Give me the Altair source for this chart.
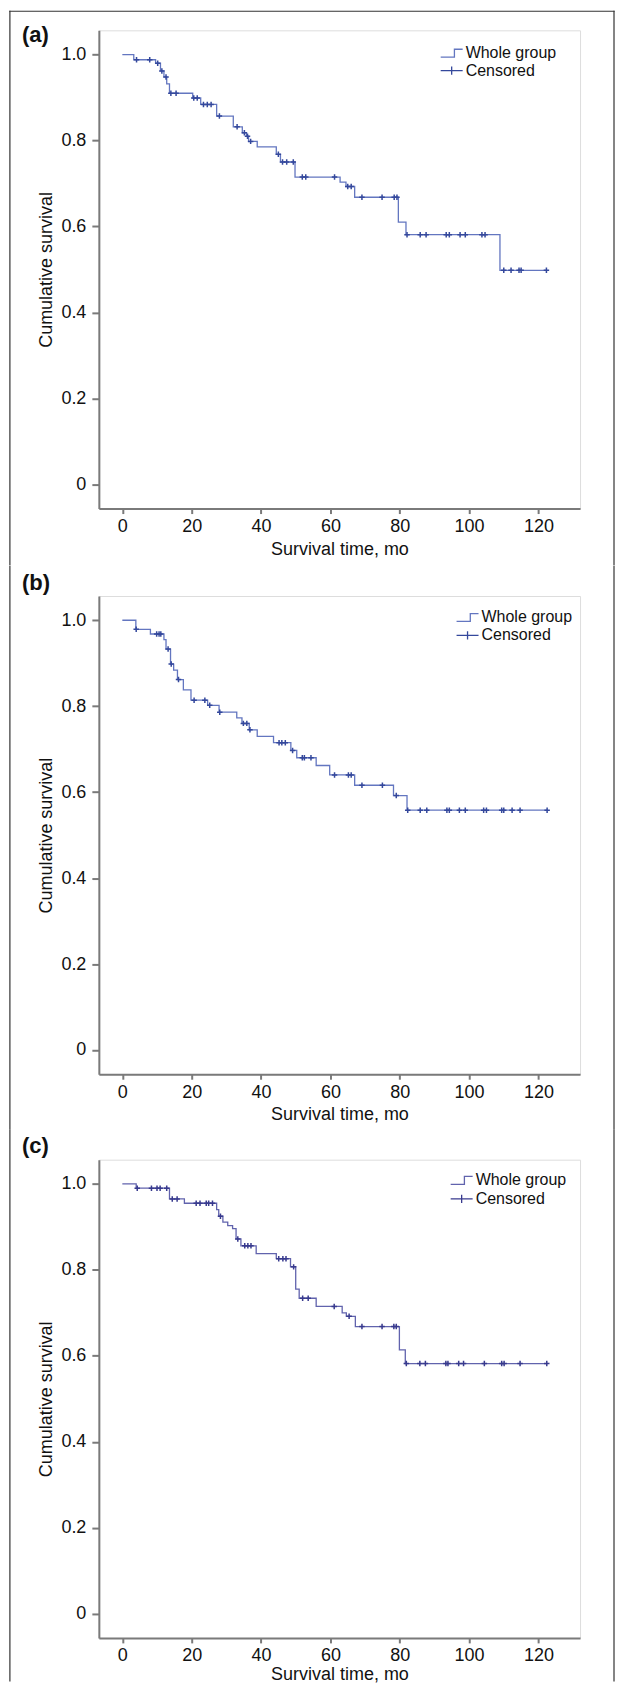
import altair as alt
import pandas as pd

# ---------------- data ----------------
panel_labels = ["(a)", "(b)", "(c)"]
legend_labels = ["Whole group", "Censored"]
x_ticks = [0, 20, 40, 60, 80, 100, 120]
y_ticks = [0, 0.2, 0.4, 0.6, 0.8, 1.0]
x_title = "Survival time, mo"
y_title = "Cumulative survival"

# (a) Kaplan-Meier steps (time, survival after the step)
a_step_t = [0, 3.3, 9.6, 11.0, 12.0, 12.8, 13.6, 20.3, 22.6, 27.2, 32.0, 34.6, 35.8, 36.4, 38.9,
            44.4, 45.6, 49.8, 62.8, 64.5, 67.0, 79.6, 81.8, 108.9, 122.3]
a_step_s = [1.0, 0.988, 0.980, 0.962, 0.948, 0.932, 0.910, 0.899, 0.884, 0.857, 0.832, 0.818, 0.810, 0.798, 0.785,
            0.768, 0.750, 0.715, 0.703, 0.693, 0.668, 0.610, 0.581, 0.498, 0.498]
a_cens_t = [4.1, 7.9, 10.2, 11.4, 12.6, 14.0, 15.5, 20.6, 21.6, 23.4, 24.5, 25.6, 28.0, 33.1, 35.2, 36.1, 37.0,
            45.0, 46.2, 47.4, 49.3, 51.9, 52.9, 61.2, 65.0, 66.0, 69.1, 74.9, 78.4, 79.2,
            82.1, 85.9, 87.6, 93.4, 94.3, 97.4, 98.9, 103.7, 104.6, 110.0, 112.1, 114.4, 115.0, 122.3]
a_cens_s = [0.988, 0.988, 0.980, 0.962, 0.948, 0.910, 0.910, 0.899, 0.899, 0.884, 0.884, 0.884, 0.857, 0.832,
            0.818, 0.810, 0.798, 0.768, 0.750, 0.750, 0.750, 0.715, 0.715, 0.715, 0.693, 0.693,
            0.668, 0.668, 0.668, 0.668, 0.581, 0.581, 0.581, 0.581, 0.581, 0.581, 0.581, 0.581, 0.581,
            0.498, 0.498, 0.498, 0.498, 0.498]

# (b)
b_step_t = [0, 3.9, 8.1, 12.0, 12.6, 13.9, 14.8, 15.9, 17.6, 19.8, 24.6, 27.9, 33.0, 34.5, 36.6, 38.9,
            43.6, 48.6, 50.3, 55.9, 59.8, 67.0, 78.2, 82.1, 122.5]
b_step_s = [1.0, 0.979, 0.968, 0.955, 0.933, 0.898, 0.884, 0.862, 0.838, 0.814, 0.802, 0.786, 0.773, 0.760,
            0.745, 0.730, 0.715, 0.697, 0.680, 0.662, 0.640, 0.616, 0.592, 0.558, 0.558]
b_cens_t = [4.0, 9.9, 10.6, 11.1, 13.2, 14.1, 16.2, 20.7, 23.8, 25.2, 28.1, 34.9, 35.9, 36.8, 45.2, 46.0, 47.0,
            49.1, 51.9, 52.5, 54.4, 61.2, 65.2, 66.0, 69.1, 75.0, 79.0, 82.3, 85.9, 87.8, 93.6, 94.3,
            97.2, 98.9, 104.2, 105.0, 109.4, 110.0, 112.4, 114.7, 122.5]
b_cens_s = [0.979, 0.968, 0.968, 0.968, 0.933, 0.898, 0.862, 0.814, 0.814, 0.802, 0.786, 0.760, 0.760, 0.745,
            0.715, 0.715, 0.715, 0.697, 0.680, 0.680, 0.680, 0.640, 0.640, 0.640, 0.616, 0.616, 0.592,
            0.558, 0.558, 0.558, 0.558, 0.558, 0.558, 0.558, 0.558, 0.558, 0.558, 0.558, 0.558, 0.558, 0.558]

# (c)
c_step_t = [0, 4.0, 13.6, 17.9, 27.2, 27.8, 29.0, 30.4, 31.8, 32.8, 34.2, 38.6, 44.4, 48.5, 50.0, 51.0,
            55.9, 63.4, 64.6, 67.2, 79.9, 81.6, 122.6]
c_step_s = [1.0, 0.990, 0.965, 0.955, 0.940, 0.925, 0.911, 0.903, 0.896, 0.872, 0.856, 0.838, 0.826, 0.807,
            0.755, 0.734, 0.715, 0.700, 0.692, 0.668, 0.614, 0.582, 0.582]
c_cens_t = [4.3, 8.4, 10.0, 10.9, 12.8, 14.4, 15.8, 21.3, 22.4, 24.2, 24.9, 26.0, 28.3, 33.3, 35.3, 36.2, 37.1,
            45.1, 46.3, 47.2, 49.4, 52.0, 53.6, 61.1, 65.4, 69.1, 74.9, 78.3, 79.0,
            81.9, 85.8, 87.4, 93.3, 93.9, 97.0, 98.4, 104.4, 109.4, 110.1, 114.7, 122.4]
c_cens_s = [0.990, 0.990, 0.990, 0.990, 0.990, 0.965, 0.965, 0.955, 0.955, 0.955, 0.955, 0.955, 0.925, 0.872,
            0.856, 0.856, 0.856, 0.826, 0.826, 0.826, 0.807, 0.734, 0.734, 0.715, 0.692,
            0.668, 0.668, 0.668, 0.668, 0.582, 0.582, 0.582, 0.582, 0.582, 0.582, 0.582, 0.582, 0.582,
            0.582, 0.582, 0.582]

# ---------------- styling ----------------
FONT = "Liberation Sans"
TEXT = "#111111"
W, H = 482, 479
X_DOMAIN = [-6.77, 132.0]
Y_DOMAIN = [-0.0564, 1.0564]
BORDER = "#333333"
SW = 1.2
XL, XR = -89.1, 516.0

STEP_SYM = "M-1,0.36H0.25V-0.36H1"
CENS_SYM = "M-1,0H1M0,-0.38V0.38"
CROSS = "M-1,0H1M0,-1V1"


def make_panel(step_t, step_s, cens_t, cens_s, label, line_color, cross_color,
               band_top, band_bottom, label_y, leg_x, leg_y1, leg_y2, xtitle_y, top_border):
    xs = alt.Scale(domain=X_DOMAIN, nice=False, zero=False)
    ys = alt.Scale(domain=Y_DOMAIN, nice=False, zero=False)
    x_axis = alt.Axis(values=x_ticks, grid=False, domain=True, domainColor="#7a7a7a", domainWidth=2,
                      tickSize=5, tickWidth=2, tickColor="#7a7a7a", labelPadding=4,
                      labelFont=FONT, labelFontSize=18, labelColor=TEXT,
                      titleFont=FONT, titleFontSize=18, titleFontWeight="normal", titleColor=TEXT,
                      titleX=W / 2, titleY=xtitle_y, titleBaseline="alphabetic", titleAlign="center")
    y_axis = alt.Axis(values=y_ticks, grid=False, domain=True, domainColor="#7a7a7a", domainWidth=2,
                      tickSize=7, tickWidth=2, tickColor="#7a7a7a", labelPadding=6,
                      labelExpr="datum.value == 0 ? '0' : format(datum.value, '.1f')",
                      labelFont=FONT, labelFontSize=18, labelColor=TEXT,
                      titleFont=FONT, titleFontSize=18, titleFontWeight="normal", titleColor=TEXT,
                      titleX=-47, titleY=H / 2, titleAngle=270, titleBaseline="alphabetic",
                      titleAlign="center")

    line_df = pd.DataFrame({"t": step_t, "s": step_s, "kind": legend_labels[0]})
    cens_df = pd.DataFrame({"t": cens_t, "s": cens_s, "kind": legend_labels[1]})

    def leg(sym, ly):
        return alt.Legend(title=None, orient="none", legendX=leg_x, legendY=ly, padding=0,
                          symbolType=sym, symbolSize=484, symbolStrokeWidth=1.3,
                          symbolFillColor="transparent", labelFont=FONT, labelFontSize=16,
                          labelColor=TEXT, labelOffset=2)

    line = alt.Chart(line_df).mark_line(interpolate="step-after", strokeWidth=1.3).encode(
        x=alt.X("t:Q", scale=xs, axis=x_axis, title=x_title),
        y=alt.Y("s:Q", scale=ys, axis=y_axis, title=y_title),
        stroke=alt.Stroke("kind:N", scale=alt.Scale(domain=[legend_labels[0]], range=[line_color]),
                          legend=leg(STEP_SYM, leg_y1)),
    )
    pts = alt.Chart(cens_df).mark_point(shape=CROSS, filled=False, size=30, strokeWidth=1.5,
                                        opacity=1).encode(
        x=alt.X("t:Q", scale=xs, axis=x_axis, title=x_title),
        y=alt.Y("s:Q", scale=ys, axis=y_axis, title=y_title),
        color=alt.Color("kind:N", scale=alt.Scale(domain=[legend_labels[1]], range=[cross_color]),
                        legend=leg(CENS_SYM, leg_y2)),
    )
    lab = alt.Chart(pd.DataFrame({"label": [label]})).mark_text(
        align="left", baseline="alphabetic", font=FONT, fontSize=22, fontWeight="bold", color=TEXT
    ).encode(x=alt.value(-77), y=alt.value(label_y), text="label:N")

    one = pd.DataFrame({"k": [0]})
    rule = dict(color=BORDER, strokeWidth=SW, strokeCap="square")
    left = alt.Chart(one).mark_rule(**rule).encode(
        x=alt.value(XL), y=alt.value(band_top), y2=alt.value(band_bottom))
    right = alt.Chart(one).mark_rule(**rule).encode(
        x=alt.value(XR), y=alt.value(band_top), y2=alt.value(band_bottom))
    layers = [line, pts, lab, left, right]
    if top_border:
        layers.append(alt.Chart(one).mark_rule(**rule).encode(
            x=alt.value(XL), x2=alt.value(XR), y=alt.value(band_top)))
    return alt.layer(*layers).properties(width=W, height=H)


pa = make_panel(a_step_t, a_step_s, a_cens_t, a_cens_s, panel_labels[0], "#6376c0", "#34489c",
                -19.1, 535.0, 12.1, 341.4, 10.9, 28.4, 45.6, True)
pb = make_panel(b_step_t, b_step_s, b_cens_t, b_cens_s, panel_labels[1], "#6376c0", "#34489c",
                -30, 533.4, -6.2, 357.3, 9.5, 27.4, 45.0, False)
pc = make_panel(c_step_t, c_step_s, c_cens_t, c_cens_s, panel_labels[2], "#6163ad", "#383a8e",
                -30, 522.0, -6.3, 351.4, 8.7, 27.3, 42.0, False)

chart = alt.vconcat(pa, pb, pc, spacing=-2 * SW, padding=0).resolve_scale(
    stroke="independent", color="independent"
).configure_view(stroke="#8f8f8f", strokeWidth=2).configure(background="white")

chart.save("out.html", embed_options={"renderer": "svg", "actions": False})
